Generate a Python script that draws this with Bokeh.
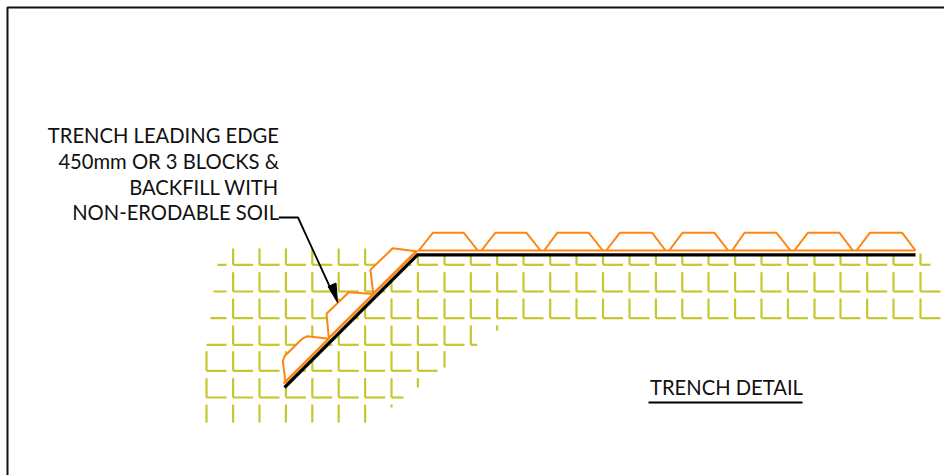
from bokeh.plotting import figure
from bokeh.models import Range1d
from bokeh.core.properties import value
from bokeh.embed import file_html
from bokeh.resources import INLINE

# Drawing coordinates (picture units)
col_x = [206, 232.6, 259, 285.4, 311.8, 338.2, 364.6, 391, 417.4, 444, 470.3, 496.7, 523, 549.7,
         576, 602.5, 629, 655.4, 681.8, 708, 734.6, 761, 787.4, 814, 840, 866.7, 893, 920]
row_top = [248, 271.7, 298, 325, 350.7, 377.7, 404]
row_base = [264.3, 291, 317.7, 344.3, 370.3, 397, 422]
row_first_col = [1, 1, 1, 1, 0, 0, 0]
row_last_col = [27, 27, 27, 10, 8, 7, 6]
row_left_dash = [217, 213, 210, 206, None, None, None]
row_right_end = [930, 940, 940, 476.7, 437, 403, None]
right_top_row0 = 253
stub_x = [496.7, 444, 417.4, 391]
stub_top = [325, 350.7, 377.7, 404]
stub_bottom = [330, 367, 387, 407]

flat_block_x0 = [418.3, 481, 543.7, 605.7, 668.7, 731.7, 794, 856]
flat_block_x1 = [432.3, 494.7, 556.7, 619.3, 682, 744, 807.3, 869.3]
flat_block_x2 = [463.3, 526, 588.3, 651.7, 714, 776, 839, 901.7]
flat_block_x3 = [477.3, 540, 602.3, 665, 727.7, 790, 852.3, 915]
flat_block_top = 232.3
flat_orange_y = 250
flat_black_y = 254.3

slope_blocks_x = [[372.7, 370, 392.3, 415.5], [328.3, 326, 348.3, 372.7], [285, 282.3, 284, 301.7, 306.7, 328.3]]
slope_blocks_y = [[293, 269.3, 247.7, 250.7], [337.3, 313.3, 291.7, 293.5], [381.7, 360.7, 355.7, 338.3, 335.7, 338.3]]
slope_orange_x = [283, 416.7]
slope_orange_y = [383, 250.5]
slope_black_x = [284, 417]
slope_black_y = [387, 254.3]

leader_x = [278.3, 297.5, 331]
leader_y = [217, 217, 290]
head_x = [337, 327.5, 335.5]
head_y = [302, 286, 282.5]

label_lines = ["TRENCH LEADING EDGE", "450mm OR 3 BLOCKS &", "BACKFILL WITH", "NON-ERODABLE SOIL"]
label_base = [143.5, 169, 195, 220]
title_text = "TRENCH DETAIL"

YELLOW = "#c6c62e"
ORANGE = "#ff8410"

p = figure(width=944, height=475, output_backend="svg", toolbar_location=None,
           x_range=Range1d(0, 944), y_range=Range1d(475, 0),
           x_axis_type=None, y_axis_type=None, min_border=0, outline_line_color=None,
           background_fill_color="white", border_fill_color="white")
p.styles = {"position": "absolute", "left": "0px", "top": "0px"}
p.grid.visible = False

# frame
p.line([7, 7, 944], [475, 7, 7], line_color="#111111", line_width=2)

# soil grid
vx0, vy0, vx1, vy1, hx0, hy0, hx1, hy1 = [], [], [], [], [], [], [], []
for r in range(len(row_top)):
    for c in range(row_first_col[r], row_last_col[r] + 1):
        top = row_top[r]
        if r == 0 and c >= 8:
            top = right_top_row0
        vx0.append(col_x[c]); vy0.append(top); vx1.append(col_x[c]); vy1.append(row_base[r])
        if row_right_end[r] is not None:
            end = min(col_x[c] + 20, row_right_end[r])
            hx0.append(col_x[c]); hy0.append(row_base[r]); hx1.append(end); hy1.append(row_base[r])
    if row_left_dash[r] is not None:
        hx0.append(row_left_dash[r]); hy0.append(row_base[r]); hx1.append(226); hy1.append(row_base[r])
vx0 += stub_x; vy0 += stub_top; vx1 += stub_x; vy1 += stub_bottom
p.segment(vx0, vy0, vx1, vy1, line_color=YELLOW, line_width=2.2)
p.segment(hx0, hy0, hx1, hy1, line_color=YELLOW, line_width=2.2)

# white clearance along the slope
p.line([284, 416.5], [385, 252.5], line_color="white", line_width=3)

# blocks on slope (white filled, hide soil behind)
p.patches(slope_blocks_x, slope_blocks_y, fill_color="white", line_color=ORANGE, line_width=2,
          line_join="round")
p.line(slope_orange_x, slope_orange_y, line_color=ORANGE, line_width=2)

# liner
p.line(slope_black_x + [915], slope_black_y + [flat_black_y], line_color="#000000", line_width=3.2,
       line_join="miter")

# flat blocks
p.line([417, 915], [flat_orange_y, flat_orange_y], line_color=ORANGE, line_width=2)
p.multi_line([[a, b, c, d] for a, b, c, d in zip(flat_block_x0, flat_block_x1, flat_block_x2, flat_block_x3)],
             [[flat_orange_y, flat_block_top, flat_block_top, flat_orange_y]] * len(flat_block_x0),
             line_color=ORANGE, line_width=2)

# leader
p.line(leader_x, leader_y, line_color="#000000", line_width=1.8)
p.patch(head_x, head_y, fill_color="#000000", line_color="#000000", line_width=1)

# texts
p.text([278.5] * 4, label_base, text=label_lines, text_align="right", text_baseline="alphabetic",
       y_offset=-9, text_font=value("Lato"), text_font_size="20.2px", text_color="#111111")
p.text([726], [395], text=[title_text], text_align="center", text_baseline="alphabetic",
       y_offset=-9, text_font=value("Lato"), text_font_size="20.2px", text_color="#111111")
p.line([648, 802], [402, 402], line_color="#000000", line_width=1.8)

open("out.html", "w").write(file_html(p, INLINE))
